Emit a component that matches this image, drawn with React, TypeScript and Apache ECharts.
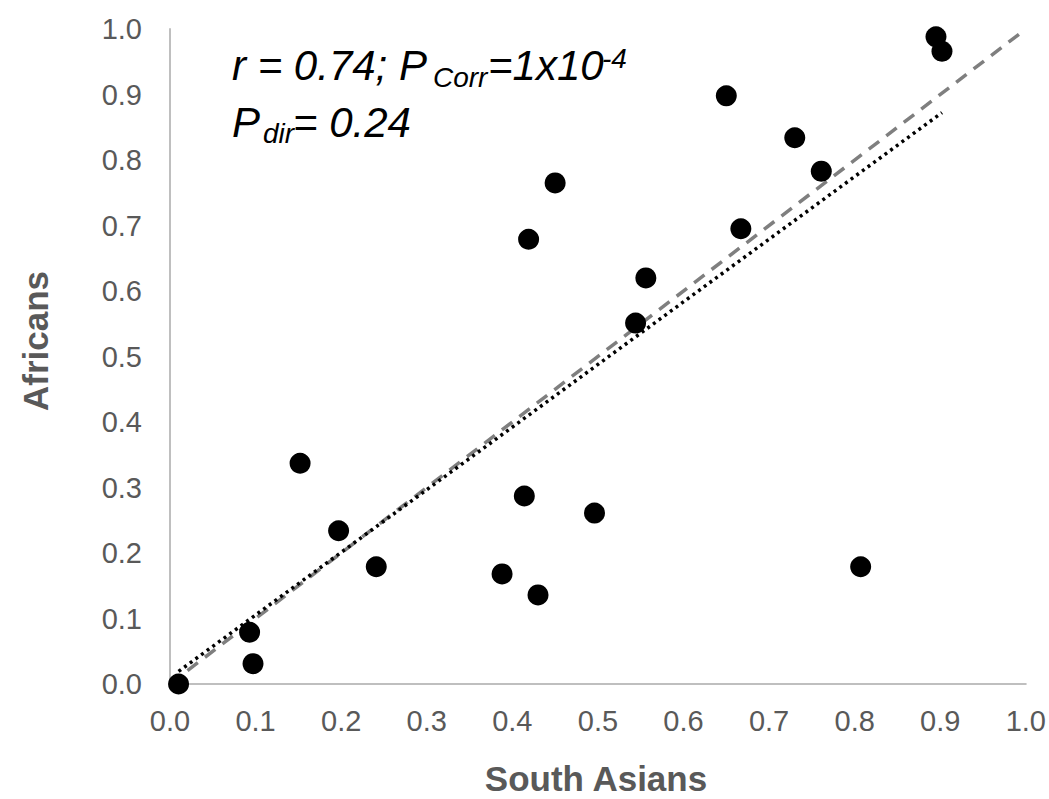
import React, { useEffect, useRef } from "react";
import * as echarts from "echarts";

const southAsians = [0.01, 0.093, 0.097, 0.152, 0.197, 0.241, 0.388, 0.414, 0.43, 0.419, 0.45, 0.496, 0.544, 0.556, 0.65, 0.667, 0.73, 0.761, 0.807, 0.895, 0.902];
const africans = [0.0, 0.079, 0.031, 0.337, 0.234, 0.179, 0.168, 0.287, 0.136, 0.679, 0.765, 0.261, 0.551, 0.62, 0.898, 0.695, 0.834, 0.783, 0.179, 0.988, 0.966];
const identityLine = [[0, 0], [1, 1]];
const xTitle = "South Asians";
const yTitle = "Africans";

function fitLine(xs: number[], ys: number[]) {
  const n = xs.length;
  const mx = xs.reduce((a, b) => a + b, 0) / n;
  const my = ys.reduce((a, b) => a + b, 0) / n;
  let sxy = 0, sxx = 0;
  for (let i = 0; i < n; i++) {
    sxy += (xs[i] - mx) * (ys[i] - my);
    sxx += (xs[i] - mx) * (xs[i] - mx);
  }
  const b = sxy / sxx;
  const a = my - b * mx;
  const x0 = Math.min(...xs), x1 = Math.max(...xs);
  return [[x0, a + b * x0], [x1, a + b * x1]];
}

export default function App() {
  const ref = useRef<HTMLDivElement>(null);
  useEffect(() => {
    if (!ref.current) return;
    const chart = echarts.init(ref.current, null, { renderer: "svg" });
    const font = "'Liberation Sans', Arial, sans-serif";
    const it = (text: string, x: number, y: number, size: number) => ({
      type: "text",
      x,
      y,
      style: {
        text,
        fontSize: size,
        fontStyle: "italic",
        fontFamily: font,
        fill: "#000000",
        align: "left",
        verticalAlign: "middle",
      },
    });
    const points = southAsians.map((x, i) => [x, africans[i]]);
    chart.setOption({
      animation: false,
      backgroundColor: "#ffffff",
      grid: { left: 170, right: 23, top: 29, bottom: 115 },
      xAxis: {
        type: "value",
        min: 0,
        max: 1,
        interval: 0.1,
        axisLine: { show: true, lineStyle: { color: "#BFBFBF", width: 2 } },
        axisTick: { show: false },
        splitLine: { show: false },
        axisLabel: {
          color: "#595959",
          fontSize: 29,
          fontFamily: font,
          margin: 22,
          formatter: (v: number) => v.toFixed(1),
        },
      },
      yAxis: {
        type: "value",
        min: 0,
        max: 1,
        interval: 0.1,
        axisLine: { show: true, lineStyle: { color: "#BFBFBF", width: 2 } },
        axisTick: { show: false },
        splitLine: { show: false },
        axisLabel: {
          color: "#595959",
          fontSize: 29,
          fontFamily: font,
          margin: 28,
          formatter: (v: number) => v.toFixed(1),
        },
      },
      series: [
        {
          type: "line",
          data: identityLine,
          symbol: "none",
          lineStyle: { color: "#7F7F7F", width: 3.5, type: [13, 9] },
          z: 2,
        },
        {
          type: "line",
          data: fitLine(southAsians, africans),
          symbol: "none",
          lineStyle: { color: "#000000", width: 3.5, type: [3, 4] },
          z: 3,
        },
        {
          type: "scatter",
          data: points,
          symbol: "circle",
          symbolSize: 21,
          itemStyle: { color: "#000000", opacity: 1 },
          z: 5,
        },
      ],
      graphic: [
        it("r = 0.74; P", 232, 65, 42),
        it("Corr", 433, 77, 28),
        it("=1x10", 488, 65, 42),
        it("-4", 602, 58, 28),
        it("P", 232, 122, 42),
        it("dir", 263, 133, 28),
        it("= 0.24", 293, 122, 42),
        {
          type: "text",
          x: 596,
          y: 778,
          style: {
            text: xTitle,
            fontSize: 35,
            fontWeight: "bold",
            fontFamily: font,
            fill: "#595959",
            align: "center",
            verticalAlign: "middle",
          },
        },
        {
          type: "text",
          x: 35,
          y: 341,
          rotation: Math.PI / 2,
          style: {
            text: yTitle,
            fontSize: 35,
            fontWeight: "bold",
            fontFamily: font,
            fill: "#595959",
            align: "center",
            verticalAlign: "middle",
          },
        },
      ],
    });
    return () => chart.dispose();
  }, []);
  return <div ref={ref} style={{ width: 1049, height: 799, position: "absolute", left: 0, top: 0 }} />;
}
